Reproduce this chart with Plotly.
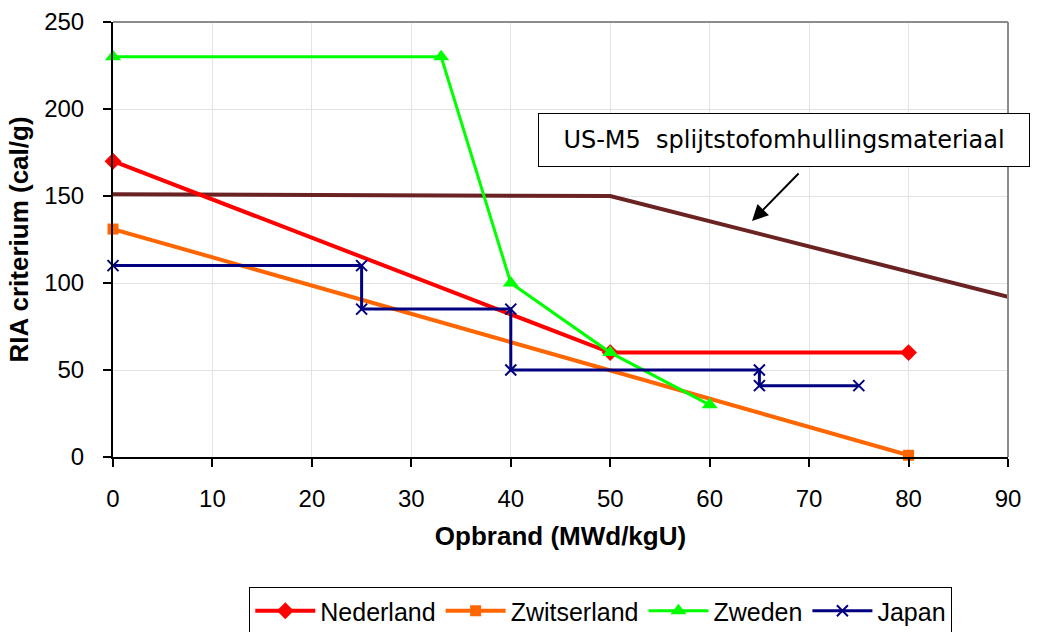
import plotly.graph_objects as go

# Data
ned_x = [0, 50, 80]
ned_y = [170, 60, 60]
zwi_x = [0, 80]
zwi_y = [131, 1]
zwe_x = [0, 33, 40, 50, 60]
zwe_y = [230, 230, 100, 60, 30]
jap_x = [0, 25, 25, 40, 40, 65, 65, 75]
jap_y = [110, 110, 85, 85, 50, 50, 41, 41]
us_x = [0, 50, 90]
us_y = [151, 150, 92]

x_ticks = [0, 10, 20, 30, 40, 50, 60, 70, 80, 90]
y_ticks = [0, 50, 100, 150, 200, 250]

FONT = "Arial, Liberation Sans, sans-serif"

fig = go.Figure()
fig.add_trace(go.Scatter(x=us_x, y=us_y, mode="lines", line=dict(color="#6B2222", width=4),
                         showlegend=False, name="US-M5", cliponaxis=False))
fig.add_trace(go.Scatter(x=ned_x, y=ned_y, mode="lines+markers", name="Nederland",
                         line=dict(color="#FF0000", width=4), cliponaxis=False,
                         marker=dict(symbol="diamond", size=13, color="#FF0000")))
fig.add_trace(go.Scatter(x=zwi_x, y=zwi_y, mode="lines+markers", name="Zwitserland",
                         line=dict(color="#FF6600", width=4), cliponaxis=False,
                         marker=dict(symbol="square", size=11, color="#FF6600")))
fig.add_trace(go.Scatter(x=zwe_x, y=zwe_y, mode="lines+markers", name="Zweden",
                         line=dict(color="#00FF00", width=3), cliponaxis=False,
                         marker=dict(symbol="triangle-up", size=14, color="#00FF00")))
fig.add_trace(go.Scatter(x=jap_x, y=jap_y, mode="lines+markers", name="Japan",
                         line=dict(color="#000080", width=3), cliponaxis=False,
                         marker=dict(symbol="x-thin", size=11, color="#000080",
                                     line=dict(color="#000080", width=2))))

fig.add_annotation(xref="paper", yref="paper", x=0.7492, y=0.7287, xanchor="center", yanchor="middle",
                   text="US-M5  splijtstofomhullingsmateriaal", showarrow=False,
                   font=dict(family="Verdana, DejaVu Sans, sans-serif", size=24, color="black"),
                   width=470, height=32, align="center",
                   bordercolor="black", borderwidth=1, borderpad=10, bgcolor="white")
fig.add_annotation(x=64.26, y=135.6, ax=69.09, ay=163.8, axref="x", ayref="y",
                   xref="x", yref="y", text="", showarrow=True,
                   arrowhead=2, arrowsize=1.6, arrowwidth=2, arrowcolor="black")

# top and right borders (gray)
fig.add_shape(type="line", xref="paper", yref="paper", x0=0, x1=1, y0=1, y1=1,
              line=dict(color="#8C8C8C", width=2))
fig.add_shape(type="line", xref="paper", yref="paper", x0=1, x1=1, y0=0, y1=1,
              line=dict(color="#8C8C8C", width=2))

fig.update_layout(
    width=1044, height=632,
    margin=dict(l=113, r=36, t=22, b=175, autoexpand=False),
    paper_bgcolor="white", plot_bgcolor="white",
    font=dict(family=FONT, size=24, color="black"),
    legend=dict(orientation="h", xanchor="center", x=0.545, yanchor="top", y=-0.299,
                bordercolor="black", borderwidth=1, font=dict(size=25),
                itemwidth=60, tracegroupgap=0),
)
fig.update_xaxes(range=[0, 90], tickvals=x_ticks, showline=True, linecolor="black", linewidth=2,
                 ticks="outside", ticklen=8, tickcolor="black", tickwidth=2, automargin=False,
                 showgrid=True, gridcolor="#E3E3E3", gridwidth=1, zeroline=False,
                 tickfont=dict(size=24),
                 title=dict(text="<b>Opbrand (MWd/kgU)</b>", standoff=16, font=dict(size=26)),
                 ticklabelstandoff=11)
fig.update_yaxes(range=[0, 250], tickvals=y_ticks, showline=True, linecolor="black", linewidth=2,
                 ticks="outside", ticklen=8, tickcolor="black", tickwidth=2, automargin=False,
                 showgrid=True, gridcolor="#E3E3E3", gridwidth=1, zeroline=False,
                 tickfont=dict(size=24),
                 title=dict(text="<b>RIA criterium (cal/g)</b>", standoff=8, font=dict(size=26)),
                 ticklabelstandoff=14)

fig.write_html("out.html", config={"displayModeBar": False},
               post_script="document.body.style.margin='0';document.body.style.overflow='hidden';")
